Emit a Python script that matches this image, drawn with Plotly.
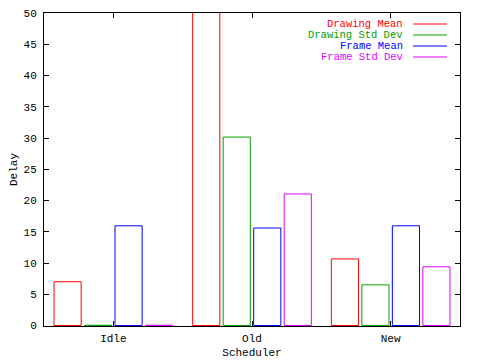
import plotly.graph_objects as go

categories = ["Idle", "Old", "New"]
series_names = ["Drawing Mean", "Drawing Std Dev", "Frame Mean", "Frame Std Dev"]
drawing_mean = [7.0, 60.0, 10.65]
drawing_std = [0.04, 30.15, 6.5]
frame_mean = [15.95, 15.6, 15.95]
frame_std = [0.04, 21.05, 9.4]
colors = ["#ff0000", "#00a000", "#0000ff", "#e000ff"]
y_ticks = [0, 5, 10, 15, 20, 25, 30, 35, 40, 45, 50]

FONT = "Liberation Mono"
values = [drawing_mean, drawing_std, frame_mean, frame_std]

fig = go.Figure()
for name, vals, col in zip(series_names, values, colors):
    fig.add_trace(go.Bar(
        x=list(range(len(categories))), y=vals, name=name,
        marker=dict(color="rgba(0,0,0,0)", line=dict(color=col, width=1)),
        showlegend=False, cliponaxis=True,
    ))

# gnuplot-style legend: right-aligned text with line sample on the right
for i, (name, col) in enumerate(zip(series_names, colors)):
    yp = 1 - (11 + 11 * i) / 313
    fig.add_annotation(xref="paper", yref="paper", x=(405 - 44) / 416, y=yp,
                       text=name, showarrow=False, xanchor="right", yanchor="middle",
                       font=dict(family=FONT, size=10.5, color=col))
    fig.add_shape(type="line", xref="paper", yref="paper",
                  x0=(413 - 44) / 416, x1=(447 - 44) / 416, y0=yp, y1=yp,
                  line=dict(color=col, width=1))

# page body has an 8px margin, so the figure is offset by 8px
fig.update_layout(
    width=472, height=352,
    margin=dict(l=36, r=20, t=5, b=34),
    paper_bgcolor="white", plot_bgcolor="white",
    barmode="group", bargap=0.12, bargroupgap=0.11,
    font=dict(family=FONT, size=11, color="black"),
    xaxis=dict(range=[-0.5, 2.5], tickvals=list(range(len(categories))), ticktext=categories,
               ticks="inside", ticklen=5, tickcolor="black", showline=True, linecolor="black",
               linewidth=1, mirror="allticks", showgrid=False, zeroline=False,
               layer="below traces", automargin=False, ticklabelstandoff=2,
               title=dict(text="Scheduler", standoff=4, font=dict(family=FONT, size=11))),
    yaxis=dict(range=[-0.08, 50], tickvals=y_ticks, ticks="inside", ticklen=5, tickcolor="black",
               showline=True, linecolor="black", linewidth=1, mirror="allticks",
               showgrid=False, zeroline=False, layer="below traces", automargin=False,
               ticklabelstandoff=4, ticklabeloverflow="allow",
               title=dict(text="Delay", standoff=6, font=dict(family=FONT, size=11))),
)

fig.write_html("out.html")
